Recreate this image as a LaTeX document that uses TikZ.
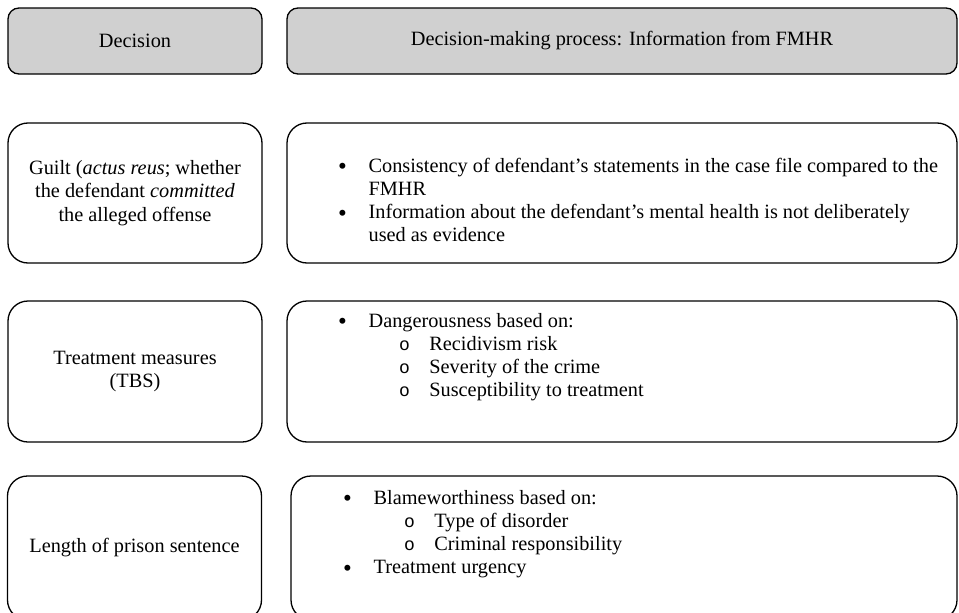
\documentclass[tikz,border=0pt]{standalone}
\usepackage{fontspec}
\setmainfont{Liberation Serif}
\newfontfamily\circfont{Liberation Mono}
\usetikzlibrary{positioning}
\definecolor{headgray}{RGB}{208,208,208}
\newcommand{\bul}{\raisebox{-2.5pt}{\fontsize{25}{23.3}\selectfont\textbullet}}
\newcommand{\subbul}{{\circfont\fontsize{18}{23.3}\selectfont o}}

\begin{document}
\begin{tikzpicture}[x=1pt, y=-1pt,
  box/.style={draw, line width=1.3pt, rounded corners=20pt, align=center, inner sep=0pt, font=\fontsize{20.3}{23.3}\selectfont},
  head/.style={box, fill=headgray, rounded corners=11pt, minimum height=66pt},
  leftbox/.style={box, minimum width=254pt, minimum height=140pt},
  rightbox/.style={box, minimum width=670pt, minimum height=140pt},
  itemtext/.style={anchor=base west, inner sep=0pt, font=\fontsize{20.3}{23.3}\selectfont}
]
\clip (0,0) rectangle (959,613);

% Header row
\node[head, minimum width=254pt] (hdec) at (135,41) {Decision};
\node[head, minimum width=670pt] (hproc) at (622,41) {Decision-making process: Information from FMHR};

% Row 1: guilt
\node[leftbox] (guilt) at (135,193) {Guilt (\textit{actus reus}; whether\\the defendant \textit{committed}\\the alleged offense};
\node[rightbox] (guiltinfo) at (622,193) {};
\node[itemtext] (guiltlist) at (338,172) {%
  \begin{tabular}[t]{@{}p{30.4pt}@{}l@{}}
  \bul & Consistency of defendant’s statements in the case file compared to the\\
       & FMHR\\
  \bul & Information about the defendant’s mental health is not deliberately\\
       & used as evidence
  \end{tabular}};

% Row 2: treatment measures
\node[leftbox, minimum height=141pt] (tbs) at (135,371.5) {Treatment measures\\(TBS)};
\node[rightbox, minimum height=141pt] (tbsinfo) at (622,371.5) {};
\node[itemtext] (tbslist) at (338,327) {%
  \begin{tabular}[t]{@{}p{30.4pt}@{}p{30.4pt}@{}p{30.4pt}@{}l@{}}
  \bul & \multicolumn{3}{@{}l@{}}{Dangerousness based on:}\\
  & & \subbul & Recidivism risk\\
  & & \subbul & Severity of the crime\\
  & & \subbul & Susceptibility to treatment
  \end{tabular}};

% Row 3: prison sentence
\node[leftbox, minimum height=144pt] (prison) at (134.5,548) {Length of prison sentence};
\node[rightbox, minimum width=666pt, minimum height=144pt] (prisoninfo) at (624,548) {};
\node[itemtext] (prisonlist) at (343,504) {%
  \begin{tabular}[t]{@{}p{30.4pt}@{}p{30.4pt}@{}p{30.4pt}@{}l@{}}
  \bul & \multicolumn{3}{@{}l@{}}{Blameworthiness based on:}\\
  & & \subbul & Type of disorder\\
  & & \subbul & Criminal responsibility\\
  \bul & \multicolumn{3}{@{}l@{}}{Treatment urgency}
  \end{tabular}};

\end{tikzpicture}
\end{document}
